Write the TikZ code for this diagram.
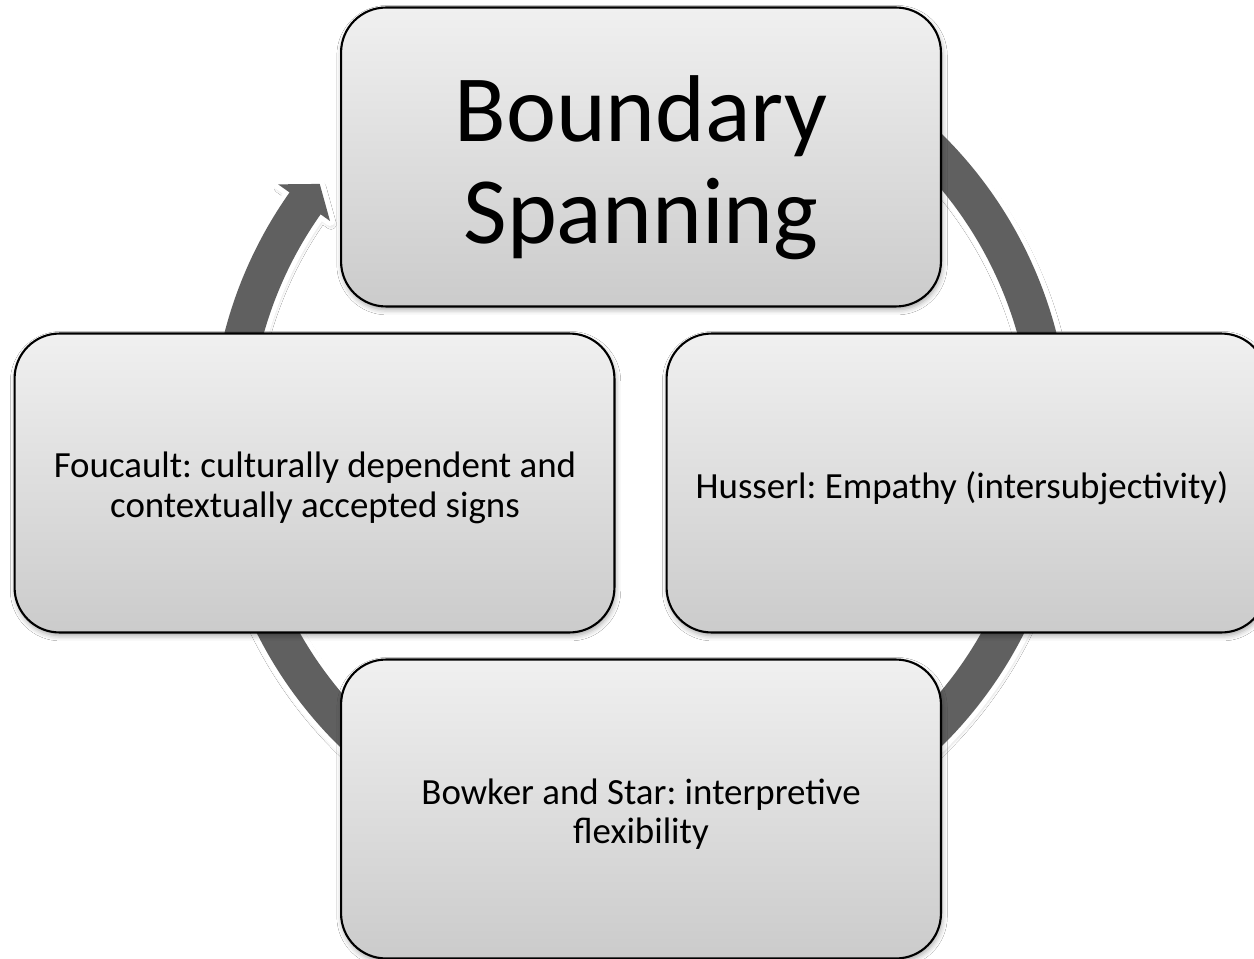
\documentclass[tikz,border=0pt]{standalone}
\usepackage{fontspec}
\setmainfont{Carlito}
\usetikzlibrary{shadows.blur}
\definecolor{arrowgray}{HTML}{606060}
\definecolor{boxtop}{HTML}{F0F0F0}
\definecolor{boxbot}{HTML}{CBCBCB}
\frenchspacing
\begin{document}
\begin{tikzpicture}[x=0.02cm,y=-0.02cm,
  box/.style={draw=black, line width=1.2pt, rounded corners=0.9cm,
    top color=boxtop, bottom color=boxbot,
    minimum width=12cm, minimum height=5.98cm, inner sep=0pt,
    blur shadow={shadow xshift=0.6pt, shadow yshift=-1.8pt, shadow blur radius=3pt, shadow opacity=35}},
  boxtext/.style={align=center, inner sep=0pt, font=\fontsize{21pt}{22.5pt}\selectfont},
  bigtext/.style={align=center, inner sep=0pt, font=\fontsize{54pt}{58pt}\selectfont},
  cyclearrow/.style={fill=arrowgray, line join=round,
    blur shadow={shadow xshift=0.6pt, shadow yshift=-1.8pt, shadow blur radius=3pt, shadow opacity=35},
    preaction={draw=white, line width=0.2cm, line join=round}},
]
\useasboundingbox (0,0) rectangle (1254,959);
\fill[white] (0,0) rectangle (1254,959);

% circular arrow
\path[cyclearrow, shift={(640.5,440)}]
  (290:391.5) arc[start angle=290, end angle=575.2, radius=391.5]
  -- (575.2:380) -- (578.6:410.5) -- (575.2:443.5) -- (575.2:429.5)
  arc[start angle=575.2, end angle=290, radius=429.5] -- cycle;

% boxes
\node[box] (top) at (641,157) {};
\node[box] (left) at (314.5,483) {};
\node[box] (right) at (966.5,483) {};
\node[box] (bottom) at (641,809) {};

% texts
\node[bigtext] (toptext) at (641,168) {Boundary\\Spanning};
\node[boxtext] (lefttext) at (315,488) {Foucault: culturally dependent and\\contextually accepted signs};
\node[boxtext] (righttext) at (962,488) {Husserl: Empathy (intersubjectivity)};
\node[boxtext] (bottomtext) at (641,814) {Bowker and Star: interpretive\\flexibility};
\end{tikzpicture}
\end{document}
